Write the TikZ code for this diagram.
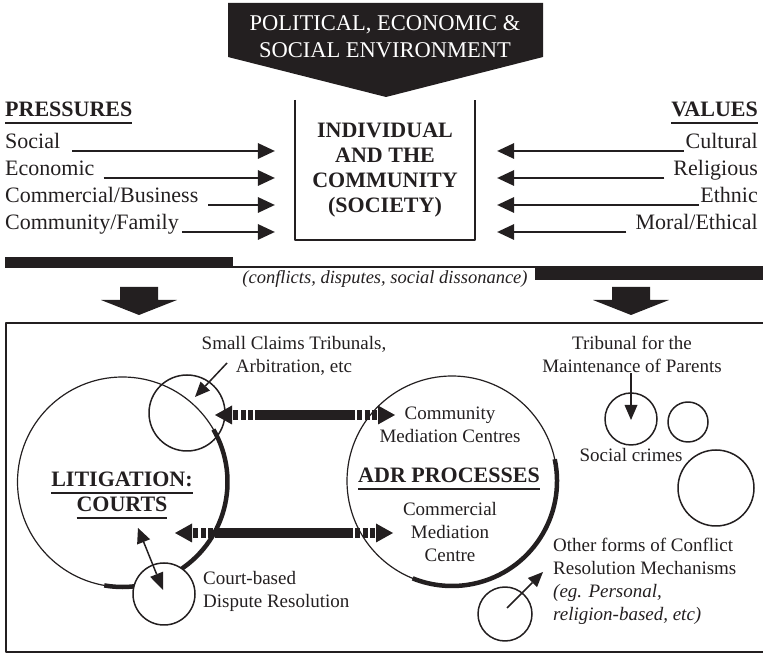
\documentclass[tikz,border=0pt]{standalone}
\usepackage{fontspec}
\setmainfont{Liberation Serif}
\usetikzlibrary{arrows.meta,calc}
\definecolor{ink}{RGB}{35,31,32}
\newsavebox{\ulsave}
\newcommand{\ulbox}[1]{\sbox{\ulsave}{#1}\rlap{\rule[-7bp]{\wd\ulsave}{2bp}}\usebox{\ulsave}}
\newcommand{\bigfont}{\fontsize{22bp}{25bp}\selectfont}
\newcommand{\smallfont}{\fontsize{19bp}{23bp}\selectfont}
\tikzset{
  lbl/.style={inner sep=0pt, font=\bigfont},
  note/.style={inner sep=0pt, font=\smallfont, align=center},
  press/.style={line width=2bp, -{Triangle[length=17bp,width=16bp,line width=0bp]}},
  ptr/.style={line width=1.5bp, -{Triangle[length=15bp,width=13bp,line width=0bp]}},
  ring/.style={circle, draw, line width=1.5bp, inner sep=0pt, outer sep=0pt},
  bigring/.style={ring, line width=1.2bp},
  heavy/.style={line width=4.5bp},
  bar/.style={line width=10bp},
  bardash/.style={dash pattern=on 0bp off 2bp on 5bp off 2.5bp on 5bp off 2.5bp on 5bp off 40bp},
}
\newcommand{\barlink}[2]{%
  \draw [bar] ($(#1)!40bp!(#2)$) -- ($(#2)!40bp!(#1)$);
  \draw [bar,bardash,-{Triangle[length=17bp,width=19bp,line width=0bp]}] ($(#1)!40bp!(#2)$) -- (#1);
  \draw [bar,bardash,-{Triangle[length=17bp,width=19bp,line width=0bp]}] ($(#2)!40bp!(#1)$) -- (#2);
}
\begin{document}
\begin{tikzpicture}[color=ink, line join=bevel,]
    %%
    \useasboundingbox (0,0) rectangle (763bp,655bp);
    \fill [ink] (228bp,652bp) -- (543bp,652bp) -- (543bp,598bp) -- (386bp,558bp) -- (228bp,598bp) -- cycle;
    % multi-line nodes sit on the baseline of their last line
    \node (env) at (385bp,597bp) [anchor=base, align=center, text=white, inner sep=0pt, font=\fontsize{22.5bp}{27bp}\selectfont] {POLITICAL, ECONOMIC \&\\SOCIAL ENVIRONMENT};
    %
    \node (society) at (385bp,485bp) [minimum width=180bp, minimum height=140bp, align=center, font=\bigfont\bfseries] {INDIVIDUAL\\AND THE\\COMMUNITY\\(SOCIETY)};
    \draw [line width=1.5bp] (society.north west) |- (society.south east) -- (society.north east);
    %
    \node (pressures) at (5bp,538bp) [lbl, anchor=base west, font=\bigfont\bfseries] {\ulbox{PRESSURES}};
    \node (social) at (5bp,506bp) [lbl, anchor=base west] {Social};
    \node (economic) at (5bp,479bp) [lbl, anchor=base west] {Economic};
    \node (commercial) at (5bp,452bp) [lbl, anchor=base west] {Commercial/Business};
    \node (community) at (5bp,425bp) [lbl, anchor=base west] {Community/Family};
    \foreach \n/\g in {social/12bp,economic/9bp,commercial/10bp,community/3bp}
      \draw [press, shorten >=20bp] ([xshift=\g,yshift=-2bp]\n.base east) coordinate (s) -- (s -| society.west);
    %
    \node (values) at (758bp,538bp) [lbl, anchor=base east, font=\bigfont\bfseries] {\ulbox{VALUES}};
    \node (cultural) at (758bp,506bp) [lbl, anchor=base east] {Cultural};
    \node (religious) at (758bp,479bp) [lbl, anchor=base east] {Religious};
    \node (ethnic) at (758bp,452bp) [lbl, anchor=base east] {Ethnic};
    \node (moral) at (758bp,425bp) [lbl, anchor=base east] {Moral/Ethical};
    \foreach \n/\g in {cultural/2bp,religious/9bp,ethnic/1bp,moral/9bp}
      \draw [press, shorten >=22bp] ([xshift=-\g,yshift=-2bp]\n.base west) coordinate (s) -- (s -| society.east);
    %
    \fill [ink] (5bp,398bp) rectangle (233bp,387bp);
    \draw [line width=1.5bp] (233bp,387.75bp) -- (535bp,387.75bp);
    \fill [ink] (535bp,388.5bp) rectangle (763bp,375bp);
    \node (conflicts) at (385bp,371bp) [anchor=base, inner sep=0pt, font=\fontsize{18.5bp}{22bp}\selectfont\itshape] {(conflicts, disputes, social dissonance)};
    \foreach \x in {139bp,631bp}
      \fill [ink, shift={(\x,0)}] (-19bp,368bp) -- (19bp,368bp) -- (19bp,355bp) -- (38bp,355bp) -- (0bp,340bp) -- (-38bp,355bp) -- (-19bp,355bp) -- cycle;
    \draw [line width=2bp] (770bp,332bp) -- (6bp,332bp) -- (6bp,3bp) -- (770bp,3bp);
    %
    \node (courts) at (122.5bp,173bp) [bigring, minimum size=210bp] {};
    \draw [heavy] (courts.30) arc[start angle=30, end angle=-100, radius=105bp];
    \node (adr) at (452bp,174bp) [bigring, minimum size=210bp] {};
    \draw [heavy] (adr.12) arc[start angle=12, end angle=-112, radius=105bp];
    \node (claimsring) at (187bp,242bp) [ring, minimum size=76bp] {};
    \node (courtring) at (164bp,61bp) [ring, fill=white, minimum size=62bp] {};
    \node (tribring) at (631bp,236bp) [ring, minimum size=52bp] {};
    \node (ring2) at (688bp,233bp) [ring, minimum size=40bp] {};
    \node (ring3) at (716bp,167bp) [ring, minimum size=76bp] {};
    \node (otherring) at (505bp,41bp) [ring, minimum size=54bp] {};
    %
    \coordinate (upL) at (215bp,240bp);
    \coordinate (upR) at (395bp,240bp);
    \coordinate (loL) at (175bp,122bp);
    \coordinate (loR) at (393bp,122bp);
    \barlink{upL}{upR}
    \barlink{loL}{loR}
    %
    \node (claims) at (294bp,282bp) [note, anchor=base] {Small Claims Tribunals,\\Arbitration, etc};
    \node (litig) at (122bp,143bp) [lbl, anchor=base, align=center, font=\bigfont\bfseries] {\ulbox{LITIGATION:}\\\ulbox{COURTS}};
    \node (adrtxt) at (449bp,172bp) [lbl, anchor=base, font=\bigfont\bfseries] {\ulbox{ADR PROCESSES}};
    \node (cmc) at (450bp,212bp) [note, anchor=base] {Community\\Mediation Centres};
    \node (comm) at (450bp,93bp) [note, anchor=base] {Commercial\\Mediation\\Centre};
    \node (cbdr) at (203bp,47bp) [note, anchor=base west, align=left] {Court-based\\Dispute Resolution};
    \node (tribunal) at (632bp,282bp) [note, anchor=base] {Tribunal for the\\Maintenance of Parents};
    \node (crimes) at (631bp,193bp) [note, anchor=base] {Social crimes};
    \node (other) at (553bp,35bp) [note, anchor=base west, align=left] {Other forms of Conflict\\Resolution Mechanisms\\\textit{(eg. Personal,}\\\textit{religion-based, etc)}};
    %
    \coordinate (claimsfrom) at (227bp,292bp);
    \coordinate (claimsto) at (195bp,258bp);
    \draw [ptr] (claimsfrom) -- (claimsto);
    \coordinate (courtfrom) at (138bp,127bp);
    \coordinate (courtto) at (163bp,65bp);
    \draw [ptr, {Triangle[length=15bp,width=14bp,line width=0bp]}-{Triangle[length=17bp,width=14bp,line width=0bp]}] (courtfrom) -- (courtto);
    \draw [ptr] (tribunal.south -| tribring.center) -- ([yshift=-1bp]tribring.center);
    \coordinate (otherfrom) at (507bp,47bp);
    \coordinate (otherto) at (543bp,83bp);
    \draw [ptr] (otherfrom) -- (otherto);
    %
\end{tikzpicture}
\end{document}
